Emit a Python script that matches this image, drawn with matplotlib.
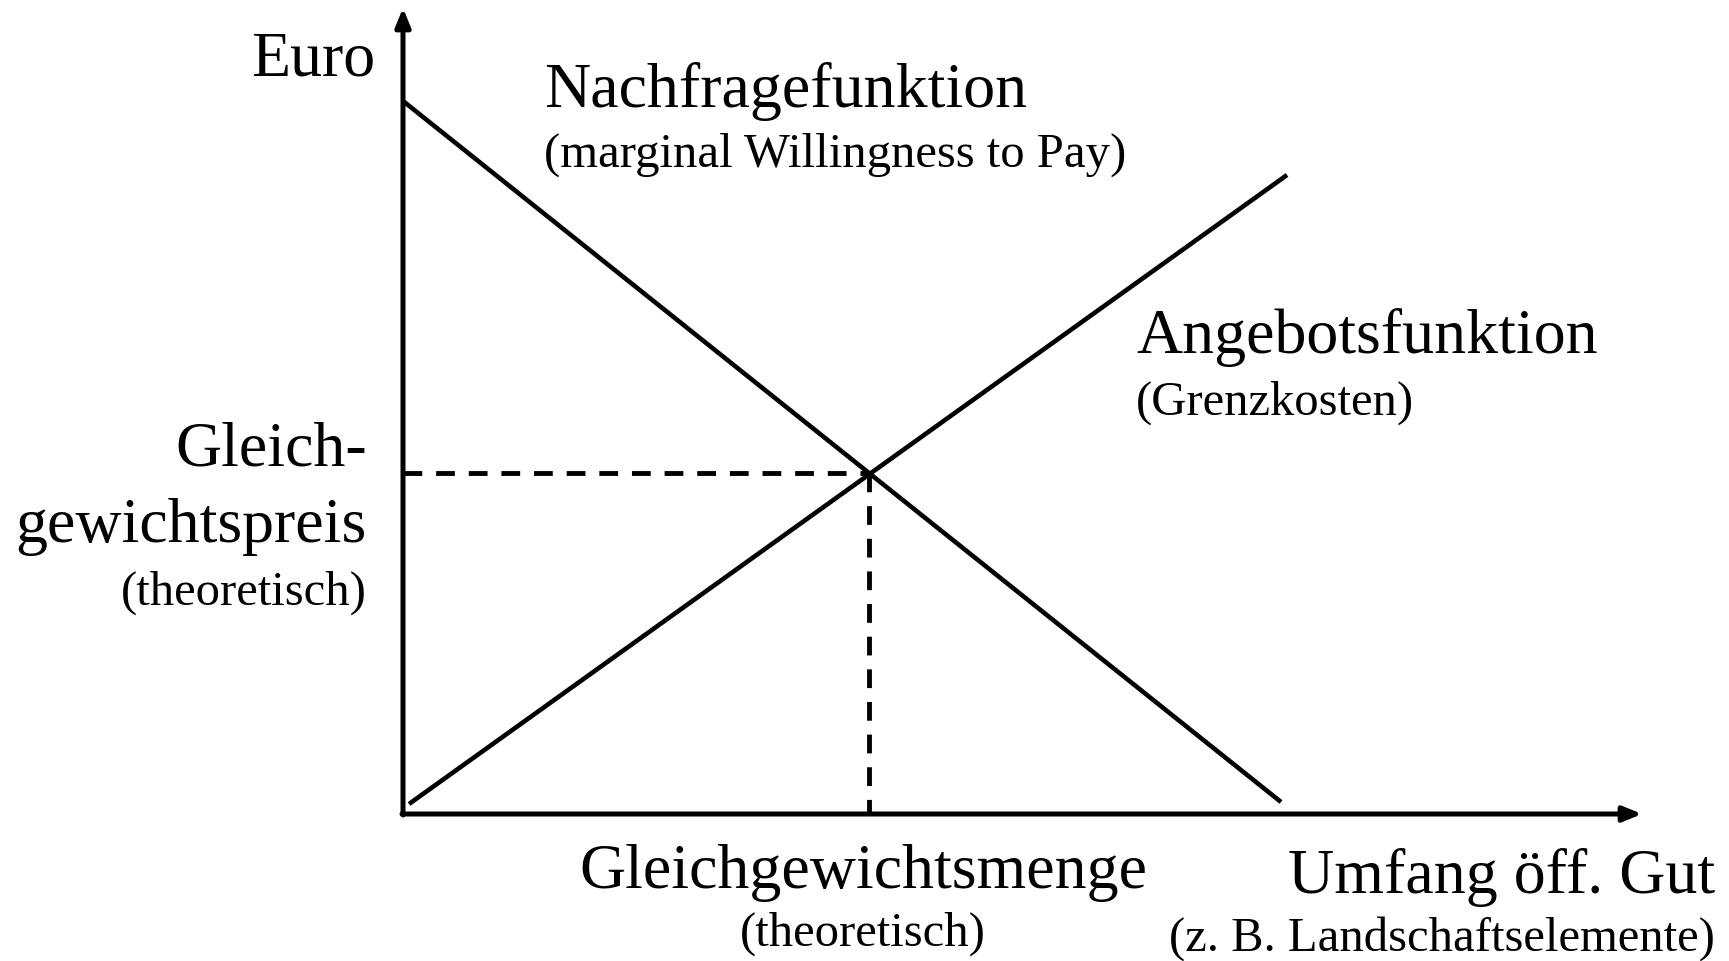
import matplotlib
matplotlib.use("Agg")
import matplotlib.pyplot as plt

# === Daten (Einheiten: 1 = 10 px, Ursprung im Achsenkreuz) ===
demand_x = [0.0, 87.8]
demand_y = [71.3, 1.2]
supply_x = [0.6, 88.4]
supply_y = [1.0, 63.9]
eq_x = 46.6
eq_y = 34.1
x_axis_end = 123.9
y_axis_end = 80.6

plt.rcParams['font.family'] = ['Liberation Serif', 'DejaVu Serif']
plt.rcParams['lines.scale_dashes'] = False

fig = plt.figure(figsize=(17.29, 9.62), dpi=100)
ax = fig.add_axes([0, 0, 1, 1])
ax.set_xlim(-40.3, 132.6)
ax.set_ylim(-14.7, 81.5)
ax.axis('off')

# Achsen mit Pfeilen
ax.annotate('', xy=(x_axis_end, 0), xytext=(-0.1, 0),
            arrowprops=dict(arrowstyle='-|>,head_length=1.1,head_width=0.45',
                            lw=3.6, color='black', shrinkA=0, shrinkB=0))
ax.annotate('', xy=(0, y_axis_end), xytext=(0, -0.1),
            arrowprops=dict(arrowstyle='-|>,head_length=1.1,head_width=0.45',
                            lw=3.6, color='black', shrinkA=0, shrinkB=0))

# Nachfrage / Angebot
ax.plot(demand_x, demand_y, color='black', lw=3.3, solid_capstyle='butt')
ax.plot(supply_x, supply_y, color='black', lw=3.3, solid_capstyle='butt')

# Gleichgewicht
ax.plot([0, eq_x], [eq_y, eq_y], color='black', lw=3.5, dashes=(13.5, 10))
ax.plot([eq_x, eq_x], [eq_y, 0], color='black', lw=3.5, dashes=(13.5, 10))

big = 46
small = 35


def px(x, y):
    return (x - 403) / 10, (815 - y) / 10


ax.text(*px(375, 75), "Euro", fontsize=big, ha='right', va='baseline')
ax.text(*px(544, 107), "Nachfragefunktion", fontsize=big, ha='left', va='baseline')
ax.text(*px(544, 167), "(marginal Willingness to Pay)", fontsize=small, ha='left', va='baseline')
ax.text(*px(1136, 353), "Angebotsfunktion", fontsize=big, ha='left', va='baseline')
ax.text(*px(1136, 415), "(Grenzkosten)", fontsize=small, ha='left', va='baseline')
ax.text(*px(367, 466), "Gleich-", fontsize=big, ha='right', va='baseline')
ax.text(*px(367, 542), "gewichtspreis", fontsize=big, ha='right', va='baseline')
ax.text(*px(367, 605), "(theoretisch)", fontsize=small, ha='right', va='baseline')
ax.text(*px(863, 888), "Gleichgewichtsmenge", fontsize=big, ha='center', va='baseline')
ax.text(*px(863, 946), "(theoretisch)", fontsize=small, ha='center', va='baseline')
ax.text(*px(1715, 893), "Umfang öff. Gut", fontsize=big, ha='right', va='baseline')
ax.text(*px(1715, 951), "(z. B. Landschaftselemente)", fontsize=small, ha='right', va='baseline')

fig.savefig("out.png", dpi=100)
